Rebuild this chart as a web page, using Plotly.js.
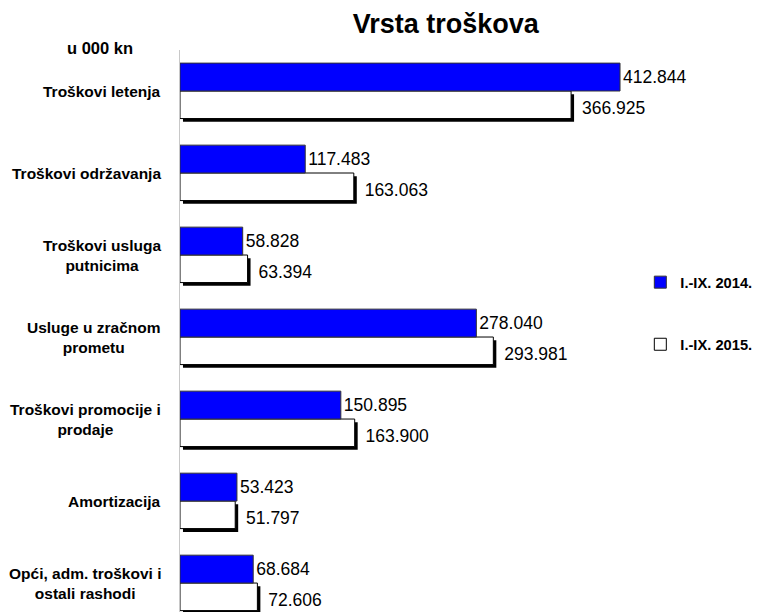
<!DOCTYPE html>
<html>
<head>
<meta charset="utf-8">
<script src="https://cdn.plot.ly/plotly-3.0.1.min.js"></script>
<style>html,body{margin:0;padding:0;background:#fff;}#chart{width:758px;height:612px;}</style>
</head>
<body>
<div id="chart"></div>
<script>
const categories = ['Troškovi letenja','Troškovi održavanja','Troškovi usluga<br>putnicima','Usluge u zračnom<br>prometu','Troškovi promocije i<br>prodaje','Amortizacija','Opći, adm. troškovi i<br>ostali rashodi'];
const values2014 = [412844,117483,58828,278040,150895,53423,68684];
const values2015 = [366925,163063,63394,293981,163900,51797,72606];
const seriesNames = ['I.-IX. 2014.','I.-IX. 2015.'];
const titleText = 'Vrsta troškova';
const unitText = 'u 000 kn';

const FONT = '"Liberation Sans", Arial, sans-serif';
const shadowShift = 2800;

const shadow = {
  type:'bar', orientation:'h', y:categories, x:values2015, base:shadowShift,
  offset:0.04, width:0.336,
  marker:{color:'#000000', line:{width:0}},
  customdata: values2015,
  texttemplate:'\u00a0%{customdata:,.0f}', textposition:'outside', constraintext:'none',
  outsidetextfont:{family:FONT, size:17.5, color:'#000'},
  showlegend:false, hoverinfo:'skip', cliponaxis:false
};
const t2015 = {
  type:'bar', orientation:'h', y:categories, x:values2015, name:seriesNames[1],
  offset:0, width:0.336,
  marker:{color:'#ffffff', line:{color:'#000000', width:1}},
  legendrank:2, legendgroup:'b', hoverinfo:'x+name', cliponaxis:false
};
const t2014 = {
  type:'bar', orientation:'h', y:categories, x:values2014, name:seriesNames[0],
  offset:-0.34, width:0.34,
  marker:{color:'#0000ff', line:{color:'#333333', width:1}},
  customdata: values2014,
  texttemplate:'%{customdata:,.0f}', textposition:'outside', constraintext:'none',
  outsidetextfont:{family:FONT, size:17.5, color:'#000'},
  legendrank:1, legendgroup:'a', hoverinfo:'x+name', cliponaxis:false
};

const annotations = categories.map(c => ({
  xref:'paper', yref:'y', x:0, y:c, xanchor:'right', yanchor:'middle', xshift:-17,
  text:c, align:'center', showarrow:false,
  font:{family:FONT, size:15.5, color:'#000', weight:'bold'}
}));
annotations.push({
  xref:'paper', yref:'paper', x:0, y:1.003, xshift:-80, xanchor:'center', yanchor:'middle',
  text:unitText, showarrow:false, font:{family:FONT, size:16.5, color:'#000', weight:'bold'}
});

const layout = {
  width:758, height:612,
  margin:{l:180, r:18, t:50, b:0},
  paper_bgcolor:'#fff', plot_bgcolor:'#fff',
  separators:',.',
  barmode:'overlay',
  title:{text:titleText, xref:'container', yref:'container', x:0.588, y:0.961, xanchor:'center', yanchor:'middle',
    font:{family:FONT, size:27, color:'#000', weight:'bold'}},
  xaxis:{range:[0,525400], showgrid:false, zeroline:false, showticklabels:false, showline:false, fixedrange:true},
  yaxis:{type:'category', range:[6.353,-0.5], showgrid:false, zeroline:false, showticklabels:false,
    showline:true, linecolor:'#c8c8c8', linewidth:1, fixedrange:true},
  showlegend:true,
  legend:{xref:'paper', yref:'paper', x:0.822, y:0.6155, xanchor:'left', yanchor:'top',
    bgcolor:'rgba(0,0,0,0)', borderwidth:0, tracegroupgap:40, traceorder:'grouped',
    font:{family:FONT, size:14.7, color:'#000', weight:'bold'}},
  annotations:annotations
};

Plotly.newPlot('chart', [shadow, t2015, t2014], layout, {displayModeBar:false, staticPlot:true});
</script>
</body>
</html>
